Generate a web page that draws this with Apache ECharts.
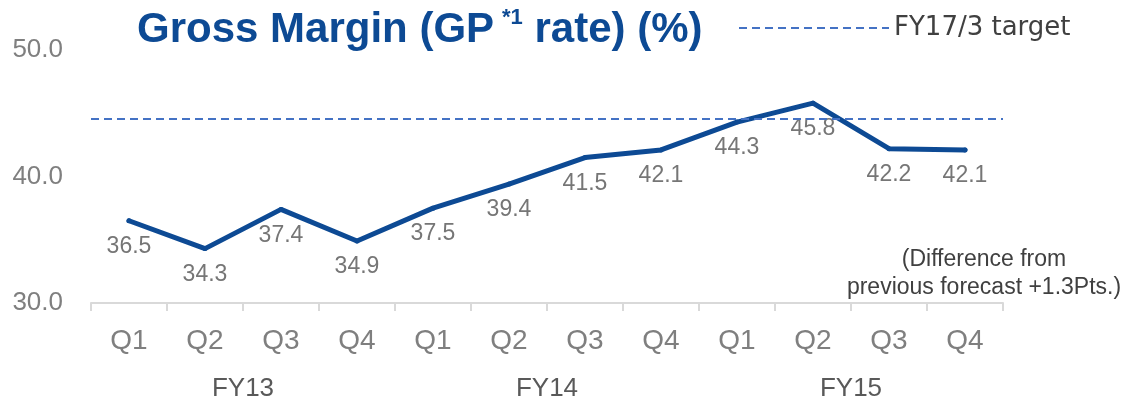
<!DOCTYPE html>
<html>
<head>
<meta charset="utf-8">
<script src="https://cdn.jsdelivr.net/npm/echarts@6/dist/echarts.min.js"></script>
<style>
  html, body { margin: 0; padding: 0; background: #fff; }
  #chart { width: 1129px; height: 402px; }
</style>
</head>
<body>
<div id="chart"></div>
<script>
  const quarters = ["Q1", "Q2", "Q3", "Q4", "Q1", "Q2", "Q3", "Q4", "Q1", "Q2", "Q3", "Q4"];
  const fiscalYears = ["FY13", "FY14", "FY15"];
  const grossMargin = [36.5, 34.3, 37.4, 34.9, 37.5, 39.4, 41.5, 42.1, 44.3, 45.8, 42.2, 42.1];
  const targetValue = 44.6;
  const targetName = "FY17/3 target";
  const yTicks = { min: 30, max: 50, interval: 10 };

  const chart = echarts.init(document.getElementById("chart"));
  const lineColor = "#0d4a94";
  const targetColor = "#4472c4";
  const font = "'Liberation Sans', Arial, sans-serif";

  chart.setOption({
    animation: false,
    textStyle: { fontFamily: font },
    title: {
      left: 132,
      top: 2,
      text: "{a|Gross Margin (GP}{b|*1}{a| rate) (%)}",
      textStyle: {
        rich: {
          a: { fontSize: 42, fontWeight: "bold", color: lineColor, fontFamily: font, lineHeight: 46 },
          b: { fontSize: 22, fontWeight: "bold", color: lineColor, fontFamily: font, verticalAlign: "top", lineHeight: 26, padding: [0, 0, 0, 8] }
        }
      }
    },
    legend: {
      left: 733,
      top: 10,
      itemWidth: 150,
      itemHeight: 14,
      itemGap: 2,
      data: [{ name: targetName, itemStyle: { opacity: 0 } }],
      textStyle: { fontFamily: "'DejaVu Sans', sans-serif", fontSize: 26, color: "#404040" }
    },
    grid: { left: 91, right: 126, top: 50, bottom: 99, containLabel: false },
    xAxis: [
      {
        type: "category",
        data: quarters,
        boundaryGap: true,
        axisLine: { lineStyle: { color: "#d9d9d9", width: 2 } },
        axisTick: { show: true, length: 8, lineStyle: { color: "#d9d9d9", width: 2 } },
        axisLabel: { color: "#7f7f7f", fontSize: 28, margin: 24, interval: 0 }
      },
      {
        type: "category",
        data: fiscalYears,
        position: "bottom",
        boundaryGap: true,
        axisLine: { show: false },
        axisTick: { show: false },
        axisLabel: { color: "#595959", fontSize: 26, margin: 73, interval: 0 }
      }
    ],
    yAxis: {
      type: "value",
      min: yTicks.min,
      max: yTicks.max,
      interval: yTicks.interval,
      axisLine: { show: false },
      axisTick: { show: false },
      splitLine: { show: false },
      axisLabel: {
        color: "#7f7f7f",
        fontSize: 26,
        margin: 28,
        formatter: function (v) { return v.toFixed(1); }
      }
    },
    series: [
      {
        name: "Gross Margin",
        type: "line",
        data: grossMargin,
        symbol: "circle",
        symbolSize: 5,
        itemStyle: { color: lineColor },
        lineStyle: { color: lineColor, width: 5, cap: "round", join: "round" },
        label: {
          show: true,
          position: "bottom",
          distance: 12,
          color: "#767676",
          fontSize: 23,
          formatter: function (p) { return p.value.toFixed(1); }
        },
        z: 3
      },
      {
        name: targetName,
        type: "line",
        data: [],
        symbol: "none",
        itemStyle: { color: targetColor },
        lineStyle: { color: targetColor, width: 2, type: [8, 5] },
        markLine: {
          silent: true,
          symbol: "none",
          label: { show: false },
          lineStyle: { color: targetColor, width: 2, type: [8, 5] },
          data: [{ yAxis: targetValue }]
        },
        z: 2
      }
    ],
    graphic: [
      {
        type: "text",
        x: 984,
        y: 246,
        style: {
          text: "(Difference from\nprevious forecast +1.3Pts.)",
          align: "center",
          fill: "#404040",
          font: "23px " + font,
          lineHeight: 28
        }
      }
    ]
  });
</script>
</body>
</html>
